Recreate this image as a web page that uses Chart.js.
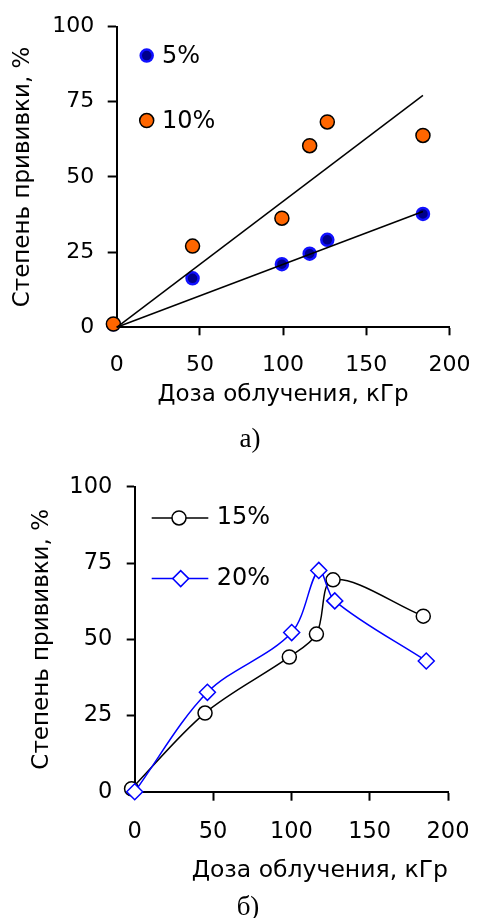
<!DOCTYPE html>
<html><head><meta charset="utf-8">
<script src="https://cdn.jsdelivr.net/npm/chart.js@4.4.1/dist/chart.umd.min.js"></script>
<style>
html,body{margin:0;padding:0;background:#fff;overflow:hidden;width:487px;height:918px;}
canvas{position:absolute;left:0;}
#c1{top:0}
#c2{top:459px}
.cap{position:absolute;width:100px;text-align:center;font-family:"Liberation Serif","Times New Roman",serif;font-size:27px;line-height:27px;color:#000;}
</style></head>
<body>
<canvas id="c1" width="487" height="459"></canvas>
<canvas id="c2" width="487" height="459"></canvas>
<div class="cap" style="left:200px;top:425px">а)</div>
<div class="cap" style="left:198px;top:893px">б)</div>
<script>
// ---- data ----
const xTickValues = [0, 50, 100, 150, 200];
const yTickValues = [0, 25, 50, 75, 100];
const xTitle = 'Доза облучения, кГр';
const yTitle = 'Степень прививки, %';

// chart a)
const doseA = [-2, 45.6, 99.3, 116, 126.6, 184.1];
const graft5 = [1, 16.3, 21.0, 24.5, 29.1, 37.7];
const graft10 = [1.1, 27.0, 36.3, 60.4, 68.3, 63.8];
const trendDose = [0, 184.1];
const trend5 = [0, 38.5];
const trend10 = [0, 77.1];

// chart б)
const dose15 = [-2, 44.9, 98.7, 116, 126.6, 184.2];
const graft15 = [1, 25.8, 44.2, 51.7, 69.5, 57.6];
const dose20 = [0, 46.4, 100.2, 117.5, 127.7, 186.1];
const graft20 = [0, 32.6, 52.2, 72.6, 62.6, 42.9];

const SANS = '"DejaVu Sans", "Liberation Sans", Arial, sans-serif';
const pts = (xs, ys) => xs.map((x, i) => ({ x: x, y: ys[i] }));

const inlineLegend = {
  id: 'inlineLegend',
  afterDraw(chart, args, opts) {
    if (!opts || !opts.items) return;
    const ctx = chart.ctx;
    const a = chart.chartArea;
    ctx.save();
    opts.items.forEach(it => {
      const ds = chart.data.datasets[it.dataset];
      const cx = a.left + it.dx, cy = a.top + it.dy;
      if (it.line) {
        ctx.strokeStyle = ds.borderColor; ctx.lineWidth = ds.borderWidth;
        ctx.beginPath(); ctx.moveTo(a.left + it.lx0, cy); ctx.lineTo(a.left + it.lx1, cy); ctx.stroke();
      }
      ctx.fillStyle = ds.pointBackgroundColor;
      ctx.strokeStyle = ds.pointBorderColor;
      ctx.lineWidth = ds.pointBorderWidth;
      Chart.helpers.drawPoint(ctx, { pointStyle: ds.pointStyle, radius: ds.pointRadius, borderWidth: ds.pointBorderWidth, rotation: 0 }, cx, cy);
      ctx.fillStyle = '#000';
      ctx.font = opts.fontSize + 'px ' + SANS;
      ctx.textBaseline = 'middle'; ctx.textAlign = 'left';
      ctx.fillText(ds.label, a.left + it.tx, a.top + it.ty);
    });
    ctx.restore();
  }
};

function axes(c) {
  return {
    x: {
      type: 'linear', min: 0, max: 200,
      afterBuildTicks: s => { s.ticks = xTickValues.map(v => ({ value: v })); },
      afterFit: s => { s.height = c.xHeight; },
      grid: {
        drawOnChartArea: false, drawTicks: true, tickLength: c.xTickLen, tickWidth: 2,
        tickColor: ctx => (ctx.tick && ctx.tick.value === 0) ? 'rgba(0,0,0,0)' : '#000', color: '#000'
      },
      border: { display: true, color: '#000', width: 2 },
      ticks: { color: '#000', font: { family: SANS, size: c.tickSize }, padding: c.xTickPad, maxRotation: 0, autoSkip: false },
      title: { display: true, text: xTitle, color: '#000', font: { family: SANS, size: c.xTitleSize }, align: c.xTitleAlign, padding: { top: 0, bottom: c.xTitlePad } }
    },
    y: {
      type: 'linear', min: 0, max: 100,
      afterBuildTicks: s => { s.ticks = yTickValues.map(v => ({ value: v })); },
      afterFit: s => { s.width = c.yWidth; },
      grid: { drawOnChartArea: false, drawTicks: true, tickLength: c.yTickLen, tickWidth: 2, tickColor: '#000', color: '#000' },
      border: { display: true, color: '#000', width: 2 },
      ticks: { color: '#000', font: { family: SANS, size: c.tickSize }, padding: c.yTickPad },
      title: { display: true, text: yTitle, color: '#000', font: { family: SANS, size: c.yTitleSize }, padding: { top: c.yTitlePad, bottom: 0 } }
    }
  };
}

new Chart(document.getElementById('c1'), {
  type: 'scatter',
  data: {
    datasets: [
      { label: 'trend10', data: pts(trendDose, trend10), showLine: true, borderColor: '#000', borderWidth: 1.5, pointRadius: 0, order: 0, clip: false },
      { label: 'trend5', data: pts(trendDose, trend5), showLine: true, borderColor: '#000', borderWidth: 1.5, pointRadius: 0, order: 0, clip: false },
      { label: '10%', data: pts(doseA, graft10), showLine: false, pointStyle: 'circle', pointRadius: 7, pointBackgroundColor: '#FF6600', pointBorderColor: '#000', pointBorderWidth: 1.5, order: 1, clip: false },
      { label: '5%', data: pts(doseA, graft5), showLine: false, pointStyle: 'circle', pointRadius: 6, pointBackgroundColor: '#00008B', pointBorderColor: '#1010FF', pointBorderWidth: 2.5, order: 2, clip: false }
    ]
  },
  options: {
    responsive: false, animation: false, devicePixelRatio: 1,
    layout: { padding: { left: 0, top: 22.7, right: 22.7, bottom: 0 } },
    scales: axes({ xHeight: 131.7, xTickLen: 8, xTickPad: 16.6, tickSize: 22, xTitleSize: 23, xTitleAlign: 'center', xTitlePad: 50.5,
                   yWidth: 116.7, yTickLen: 9, yTickPad: 13.4, yTitleSize: 23, yTitlePad: 9.5 }),
    plugins: {
      legend: { display: false }, tooltip: { enabled: false },
      inlineLegend: { fontSize: 24, items: [
        { dataset: 3, dx: 30, dy: 29, tx: 45.3, ty: 29.8 },
        { dataset: 2, dx: 30, dy: 94, tx: 45.3, ty: 94.8 }
      ] }
    }
  },
  plugins: [inlineLegend]
});

new Chart(document.getElementById('c2'), {
  type: 'scatter',
  data: {
    datasets: [
      { label: '15%', data: pts(dose15, graft15), showLine: true, tension: 0.33, borderColor: '#000', borderWidth: 1.5, pointStyle: 'circle', pointRadius: 7, pointBackgroundColor: '#fff', pointBorderColor: '#000', pointBorderWidth: 1.5, order: 1, clip: false },
      { label: '20%', data: pts(dose20, graft20), showLine: true, tension: 0.33, borderColor: '#0000FF', borderWidth: 1.5, pointStyle: 'rectRot', pointRadius: 8, pointBackgroundColor: '#fff', pointBorderColor: '#0000FF', pointBorderWidth: 1.5, order: 0, clip: false }
    ]
  },
  options: {
    responsive: false, animation: false, devicePixelRatio: 1,
    layout: { padding: { left: 0, top: 18.3, right: 36, bottom: 0 } },
    scales: axes({ xHeight: 126.3, xTickLen: 9, xTickPad: 17.5, tickSize: 22.5, xTitleSize: 23.5, xTitleAlign: 'end', xTitlePad: 33.5,
                   yWidth: 134.7, yTickLen: 8, yTickPad: 14.4, yTitleSize: 23, yTitlePad: 28.5 }),
    plugins: {
      legend: { display: false }, tooltip: { enabled: false },
      inlineLegend: { fontSize: 24, items: [
        { dataset: 0, dx: 44.3, dy: 31, line: true, lx0: 17, lx1: 73.6, tx: 82, ty: 30.6 },
        { dataset: 1, dx: 46, dy: 91.7, line: true, lx0: 17, lx1: 73.6, tx: 82, ty: 91.6 }
      ] }
    }
  },
  plugins: [inlineLegend]
});
</script>
</body></html>
